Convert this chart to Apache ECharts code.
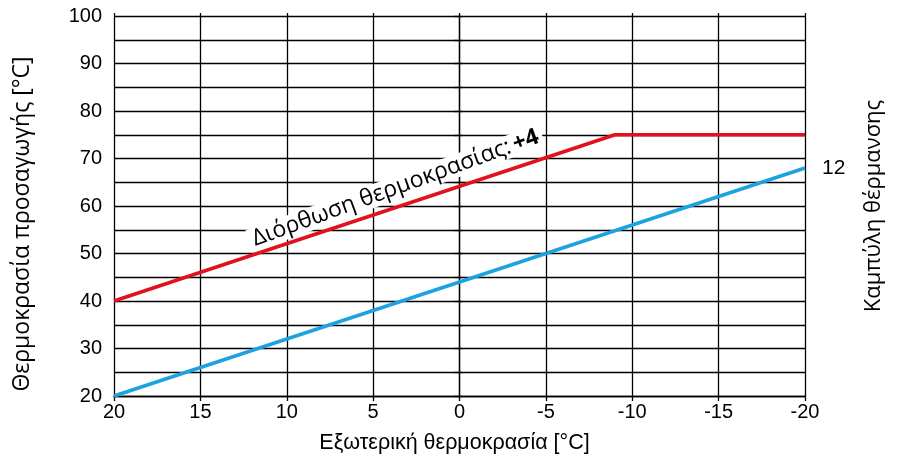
<!DOCTYPE html>
<html><head><meta charset="utf-8">
<script src="https://cdn.jsdelivr.net/npm/echarts@6/dist/echarts.min.js"></script>
<style>html,body{margin:0;padding:0;background:#fff}#c{width:898px;height:459px}</style>
</head><body><div id="c"></div>
<script>
const xTicks = [20, 15, 10, 5, 0, -5, -10, -15, -20];
const yTicks = [20, 30, 40, 50, 60, 70, 80, 90, 100];
const redX = [20, -9, -20];
const redY = [40, 75, 75];
const blueX = [20, -20];
const blueY = [20, 68];
const curveLabel = '12';
const corrLabelPos = [3.7, 63.8];

const redData = redX.map((x, i) => [x, redY[i]]);
const blueData = blueX.map((x, i) => [x, blueY[i]]);
const axisFont = 'Liberation Sans, Arial, sans-serif';
const nameFont = 'Open Sans, Noto Sans, sans-serif';
const lineStyle = {color: '#000', width: 1.3};

const chart = echarts.init(document.getElementById('c'), null, {renderer: 'canvas'});
chart.setOption({
  animation: false,
  backgroundColor: '#fff',
  grid: {left: 114, right: 93, top: 16, bottom: 60},
  xAxis: [{
    type: 'value', inverse: true, min: -20, max: 20, interval: 5,
    axisLine: {show: true, lineStyle: lineStyle},
    axisTick: {show: true, length: 5, lineStyle: lineStyle},
    splitLine: {show: true, lineStyle: lineStyle},
    axisLabel: {color: '#000', fontSize: 20, fontFamily: axisFont, margin: 6,
      formatter: v => (xTicks.indexOf(v) >= 0 ? String(v) : '')},
    name: 'Εξωτερική θερμοκρασία [°C]', nameLocation: 'middle', nameGap: 36,
    nameTextStyle: {color: '#000', fontSize: 21.5, fontFamily: axisFont, padding: [0, 10, 0, 0]}
  }, {
    type: 'value', position: 'top', inverse: true, min: -20, max: 20, interval: 5,
    axisLine: {show: false}, axisTick: {show: true, length: 3, lineStyle: lineStyle},
    axisLabel: {show: false}, splitLine: {show: false}
  }],
  yAxis: [{
    type: 'value', min: 20, max: 100, interval: 5,
    axisLine: {show: true, lineStyle: lineStyle},
    axisTick: {show: true, length: 6, lineStyle: lineStyle},
    splitLine: {show: true, lineStyle: lineStyle},
    axisLabel: {color: '#000', fontSize: 20, fontFamily: axisFont, margin: 12,
      formatter: v => (yTicks.indexOf(v) >= 0 ? String(v) : '')},
    name: 'Θερμοκρασία προσαγωγής [°C]', nameLocation: 'middle', nameGap: 80, nameRotate: 90,
    nameTextStyle: {color: '#000', fontSize: 23, fontFamily: nameFont, padding: [0, 36, 0, 0]}
  }, {
    type: 'value', position: 'right', min: 20, max: 100, interval: 5,
    axisLine: {show: false}, axisTick: {show: true, length: 3, lineStyle: lineStyle},
    axisLabel: {show: false}, splitLine: {show: false},
    name: 'Καμπύλη θέρμανσης', nameLocation: 'middle', nameGap: 58, nameRotate: 90,
    nameTextStyle: {color: '#000', fontSize: 22, fontFamily: nameFont}
  }],
  series: [{
    type: 'line', data: blueData, symbol: 'none',
    lineStyle: {color: '#1ba3e0', width: 3.5},
    markPoint: {
      symbol: 'circle', symbolSize: 0, silent: true,
      data: [{coord: blueData[blueData.length - 1]}],
      label: {show: true, position: 'right', distance: 17, formatter: curveLabel,
        color: '#000', fontSize: 21, fontFamily: axisFont}
    },
    z: 3
  }, {
    type: 'line', data: redData, symbol: 'none',
    lineStyle: {color: '#e3101e', width: 3.5},
    markPoint: {
      symbol: 'circle', symbolSize: 0, silent: true,
      data: [{coord: corrLabelPos}],
      label: {
        show: true, position: 'inside', rotate: 20,
        backgroundColor: '#fff', padding: [0, 4],
        formatter: '{a|Διόρθωση θερμοκρασίας:} {b|+4}',
        rich: {
          a: {fontSize: 23, fontFamily: nameFont, color: '#000'},
          b: {fontSize: 23, fontFamily: nameFont, fontWeight: 'bold', color: '#000'}
        }
      }
    },
    z: 4
  }]
});
</script></body></html>
